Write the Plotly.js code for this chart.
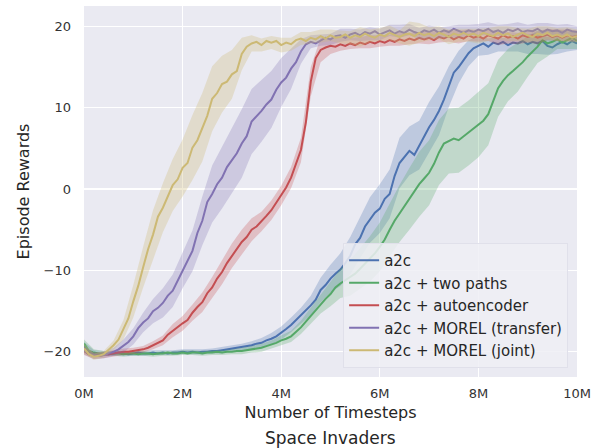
<!DOCTYPE html>
<html>
<head>
<meta charset="utf-8">
<script src="https://cdn.plot.ly/plotly-3.0.1.min.js"></script>
<style>html,body{margin:0;padding:0;background:#fff;}#chart{width:594px;height:448px;}</style>
</head>
<body>
<div id="chart"></div>
<script>
// Timesteps in millions (0.1M sampling)
const timesteps = [0,0.1,0.2,0.3,0.4,0.5,0.6,0.7,0.8,0.9,1,1.1,1.2,1.3,1.4,1.5,1.6,1.7,1.8,1.9,2,2.1,2.2,2.3,2.4,2.5,2.6,2.7,2.8,2.9,3,3.1,3.2,3.3,3.4,3.5,3.6,3.7,3.8,3.9,4,4.1,4.2,4.3,4.4,4.5,4.6,4.7,4.8,4.9,5,5.1,5.2,5.3,5.4,5.5,5.6,5.7,5.8,5.9,6,6.1,6.2,6.3,6.4,6.5,6.6,6.7,6.8,6.9,7,7.1,7.2,7.3,7.4,7.5,7.6,7.7,7.8,7.9,8,8.1,8.2,8.3,8.4,8.5,8.6,8.7,8.8,8.9,9,9.1,9.2,9.3,9.4,9.5,9.6,9.7,9.8,9.9,10];

const seriesNames = ["a2c", "a2c + two paths", "a2c + autoencoder", "a2c + MOREL (transfer)", "a2c + MOREL (joint)"];

const a2c = [-19.3,-20.0,-20.2,-20.3,-20.2,-20.3,-20.2,-20.1,-20.2,-20.3,-20.2,-20.1,-20.2,-20.2,-20.1,-20.2,-20.1,-20.2,-20.1,-20.1,-20.0,-20.1,-20.0,-20.1,-20.0,-20.0,-19.9,-19.9,-19.8,-19.7,-19.6,-19.5,-19.4,-19.3,-19.2,-19.0,-18.9,-18.6,-18.4,-18.1,-17.7,-17.2,-16.7,-16.1,-15.6,-15.0,-14.3,-13.6,-12.4,-11.8,-11.0,-10.4,-9.9,-9.1,-8.2,-6.8,-6.0,-4.6,-3.8,-2.9,-2.4,-1.2,-0.6,1.6,3.2,4.0,4.7,4.2,5.4,6.5,7.6,8.5,9.6,11.0,12.6,14.3,15.0,15.8,16.7,17.3,17.6,17.9,17.5,18.0,17.8,18.1,17.7,18.0,17.9,18.2,17.8,18.1,17.9,18.2,17.6,17.4,17.8,18.1,17.8,18.2,17.9];
const twoPaths = [-19.0,-19.9,-20.1,-20.2,-20.2,-20.3,-20.2,-20.2,-20.3,-20.2,-20.2,-20.3,-20.2,-20.2,-20.3,-20.2,-20.2,-20.1,-20.2,-20.2,-20.1,-20.2,-20.1,-20.1,-20.2,-20.1,-20.1,-20.0,-20.1,-20.0,-20.0,-19.9,-19.9,-19.8,-19.7,-19.6,-19.5,-19.3,-19.1,-18.9,-18.6,-18.4,-18.1,-17.6,-17.0,-16.3,-15.6,-14.9,-14.1,-13.5,-12.9,-12.1,-11.6,-11.2,-10.9,-10.4,-9.8,-9.2,-8.6,-7.9,-7.1,-6.2,-5.0,-3.9,-3.0,-2.1,-1.2,-0.3,0.6,1.3,2.0,3.1,4.5,5.6,5.9,6.2,6.0,6.5,6.9,7.4,7.9,8.4,9.2,10.8,12.4,13.3,14.0,14.5,15.0,15.6,16.3,16.9,17.5,18.3,17.9,18.1,18.4,18.0,18.3,18.6,18.2];
const autoencoder = [-19.9,-20.3,-20.5,-20.5,-20.4,-20.3,-20.2,-20.1,-20.0,-20.0,-19.9,-19.8,-19.7,-19.5,-19.2,-18.9,-18.6,-17.9,-17.4,-17.0,-16.5,-16.1,-15.2,-14.5,-13.9,-12.8,-12.1,-11.0,-10.2,-9.1,-8.2,-7.3,-6.5,-5.9,-5.0,-4.6,-4.0,-3.3,-2.6,-1.7,-0.8,0.2,1.4,3.0,4.8,8.2,13.2,16.1,17.1,17.4,17.6,17.5,17.8,17.6,17.9,17.7,18.0,17.8,18.1,17.9,18.2,18.0,18.3,18.1,18.4,18.2,18.5,18.3,18.6,18.4,18.6,18.3,18.7,18.5,18.8,18.4,18.7,18.5,18.9,18.6,18.8,18.5,18.9,18.7,18.5,18.9,18.6,18.8,18.5,18.9,18.7,18.9,18.6,18.8,19.0,18.7,18.9,18.6,18.9,18.7,18.8];
const morelTransfer = [-19.8,-20.3,-20.5,-20.5,-20.4,-20.2,-20.0,-19.7,-19.3,-18.8,-18.1,-17.1,-16.4,-15.9,-15.0,-14.6,-14.0,-13.1,-12.5,-11.3,-10.0,-8.9,-7.6,-5.4,-3.9,-1.6,-0.6,0.6,1.4,2.7,3.5,4.4,5.6,6.5,8.3,8.9,9.6,10.4,11.0,12.2,13.1,13.7,14.8,15.6,16.9,17.8,18.1,17.9,18.3,18.6,18.4,18.8,18.9,18.6,19.0,19.2,18.9,19.3,19.1,19.4,19.0,19.3,19.5,19.1,19.4,19.2,19.6,19.3,19.1,19.5,19.3,19.6,19.2,19.5,19.3,19.7,19.4,19.2,19.5,19.3,19.6,19.4,19.7,19.3,19.5,19.2,19.6,19.4,19.7,19.3,19.5,19.4,19.7,19.3,19.6,19.4,19.5,19.2,19.6,19.4,19.3];
const morelJoint = [-19.6,-20.3,-20.6,-20.5,-20.3,-19.8,-19.2,-18.5,-17.3,-15.9,-13.8,-11.9,-9.6,-7.4,-5.6,-3.4,-2.3,-0.9,0.5,1.2,2.6,3.2,5.1,6.0,7.6,9.0,11.1,11.8,12.9,13.2,14.1,14.5,16.6,17.5,17.9,18.1,17.7,18.2,18.0,18.2,17.7,18.0,17.8,18.3,18.5,18.2,18.6,18.4,18.8,18.5,18.9,18.6,18.7,19.0,18.6,18.9,18.7,19.1,18.8,18.6,19.0,18.8,19.2,18.9,18.7,19.0,19.1,18.8,19.2,18.9,19.1,18.8,19.2,19.0,18.7,19.1,18.9,19.2,18.9,19.1,18.8,19.2,19.0,18.8,19.2,18.9,19.1,18.7,19.0,19.2,18.9,18.7,19.1,18.9,19.2,18.8,19.0,18.7,19.0,18.6,18.8];

// Spread (half-width of the shaded band), sampled every 0.2M
const a2cSpread = [0.5,0.4,0.3,0.3,0.3,0.3,0.3,0.3,0.3,0.3,0.3,0.3,0.3,0.3,0.4,0.4,0.4,0.5,0.6,0.7,0.8,0.9,1.0,1.2,1.5,1.7,2.0,2.3,2.5,2.8,3.0,3.0,3.1,3.0,3.0,3.1,3.0,2.5,2.0,1.6,1.2,1.0,0.9,0.8,1.0,1.2,1.3,1.1,1.2,0.9,0.8];
const twoPathsSpread = [0.5,0.4,0.3,0.3,0.3,0.3,0.3,0.3,0.3,0.3,0.3,0.3,0.3,0.3,0.3,0.3,0.4,0.4,0.5,0.5,0.6,0.7,0.8,1.0,1.2,1.5,1.8,2.2,2.5,2.8,3.0,3.3,3.5,3.8,4.0,4.0,4.0,4.0,4.0,4.0,4.0,3.8,3.5,3.2,3.0,2.5,2.0,1.6,1.2,1.1,1.0];
const autoencoderSpread = [0.5,0.4,0.4,0.4,0.4,0.4,0.4,0.5,0.6,0.8,0.9,1.0,1.2,1.3,1.5,1.5,1.5,1.4,1.2,1.2,1.2,1.3,1.5,1.8,1.5,1.0,0.8,0.7,0.7,0.8,0.7,0.7,0.8,0.7,0.7,0.8,0.7,0.7,0.8,0.7,0.7,0.7,0.8,0.7,0.7,0.7,0.8,0.7,0.7,0.7,0.7];
const morelTransferSpread = [0.5,0.4,0.4,0.5,0.8,1.0,1.2,1.5,1.8,2.0,2.2,2.5,3.0,3.5,3.8,4.0,4.2,4.0,3.8,3.5,3.0,2.5,1.5,0.8,0.7,0.7,0.8,0.7,0.7,0.8,0.7,0.7,0.8,0.7,0.7,0.8,0.7,0.7,0.8,0.7,0.7,0.8,0.7,0.7,0.8,0.7,0.7,0.8,0.7,0.7,0.7];
const morelJointSpread = [0.6,0.4,0.4,0.6,1.2,2.0,2.5,3.0,3.0,3.2,3.5,4.0,4.2,4.0,3.5,3.0,2.0,1.0,0.8,0.8,0.9,0.8,0.8,0.7,0.8,0.7,0.8,0.8,1.2,0.8,0.8,0.9,0.8,1.5,1.2,0.8,0.8,0.9,0.8,0.8,0.9,0.8,0.8,0.9,0.8,0.8,0.9,0.8,0.8,0.9,0.8];

const xTickVals = [0, 2, 4, 6, 8, 10];
const xTickText = ["0M", "2M", "4M", "6M", "8M", "10M"];
const yTickVals = [-20, -10, 0, 10, 20];

const colors = ["#4c72b0", "#55a868", "#c44e52", "#8172b2", "#ccb974"];
const fills = ["rgba(76,114,176,0.28)", "rgba(85,168,104,0.28)", "rgba(196,78,82,0.28)", "rgba(129,114,178,0.28)", "rgba(204,185,116,0.30)"];

const means = [a2c, twoPaths, autoencoder, morelTransfer, morelJoint];
const spreads = [a2cSpread, twoPathsSpread, autoencoderSpread, morelTransferSpread, morelJointSpread];

const traces = [];
means.forEach((m, k) => {
  const s = spreads[k];
  const bx = [], lo = [], hi = [];
  for (let i = 0; i < s.length; i++) {
    const j = i * 2;
    bx.push(timesteps[j]);
    lo.push(m[j] - s[i]);
    hi.push(m[j] + s[i]);
  }
  traces.push({x: bx, y: lo, mode: "lines", line: {width: 0, color: fills[k]}, showlegend: false, hoverinfo: "skip", legendgroup: "g" + k});
  traces.push({x: bx, y: hi, mode: "lines", line: {width: 0, color: fills[k]}, fill: "tonexty", fillcolor: fills[k], showlegend: false, hoverinfo: "skip", legendgroup: "g" + k});
  traces.push({x: timesteps, y: m, mode: "lines", name: seriesNames[k], line: {color: colors[k], width: 2}, legendgroup: "g" + k});
});

const font = "DejaVu Sans, sans-serif";
const layout = {
  width: 594, height: 448,
  margin: {l: 84, r: 17, t: 6, b: 71},
  paper_bgcolor: "#ffffff",
  plot_bgcolor: "#eaeaf2",
  font: {family: font, color: "#262626"},
  showlegend: true,
  legend: {
    x: 0.982, xanchor: "right", y: 0.024, yanchor: "bottom",
    bgcolor: "rgba(238,238,245,0.85)", bordercolor: "rgba(224,224,234,1)", borderwidth: 1,
    font: {family: font, size: 15, color: "#262626"},
    tracegroupgap: 0, itemwidth: 30
  },
  xaxis: {
    range: [0, 10], tickvals: xTickVals, ticktext: xTickText,
    showgrid: true, gridcolor: "#ffffff", gridwidth: 1.2, zeroline: false, showline: false,
    ticks: "", tickfont: {family: font, size: 13, color: "#333333"},
    ticklabelstandoff: 7,
    title: {text: "Number of Timesteps", font: {family: font, size: 16, color: "#262626"}, standoff: 6}
  },
  yaxis: {
    range: [-23.1, 22.5], tickvals: yTickVals,
    showgrid: true, gridcolor: "#ffffff", gridwidth: 1.2, zeroline: false, showline: false,
    ticks: "", tickfont: {family: font, size: 13, color: "#333333"},
    ticklabelstandoff: 12,
    title: {text: "Episode Rewards", font: {family: font, size: 16, color: "#262626"}, standoff: 9}
  },
  annotations: [
    {text: "Pong", xref: "paper", yref: "paper", x: 0.5, y: 1, yanchor: "middle", yshift: 16, showarrow: false, font: {family: font, size: 16, color: "#262626"}},
    {text: "Space Invaders", xref: "paper", yref: "paper", x: 0.5, y: 0, yanchor: "middle", yshift: -61, showarrow: false, font: {family: font, size: 17, color: "#262626"}},
    {text: "200", xref: "paper", yref: "paper", x: -0.053, y: 0, yanchor: "top", yshift: -67, showarrow: false, font: {family: font, size: 13, color: "#333333"}}
  ]
};

Plotly.newPlot("chart", traces, layout, {displayModeBar: false, staticPlot: true});
</script>
</body>
</html>
